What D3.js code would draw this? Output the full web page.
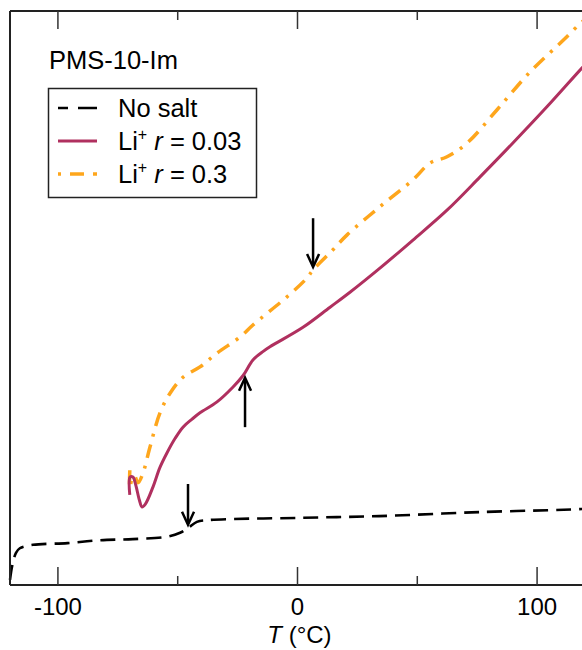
<!DOCTYPE html>
<html>
<head>
<meta charset="utf-8">
<script src="https://cdn.jsdelivr.net/npm/d3@7"></script>
<style>
  body { margin: 0; background: #fff; }
  text { font-family: "Liberation Sans", Arial, sans-serif; fill: #000; }
</style>
</head>
<body>
<div id="chart"></div>
<script>
// Heat flow curves (arbitrary units, endo up) vs temperature
const noSaltT = [-120, -119, -117.5, -115.9, -110.4, -96, -82.5, -68.7, -54.5, -49, -45.7, -42, -37.8, 1, 34, 76, 117, 120];
const noSaltV = [0.9, 3.5, 5.6, 6.4, 7.0, 7.3, 7.8, 8.0, 8.4, 9.1, 9.9, 11.0, 11.3, 11.7, 12.0, 12.7, 13.2, 13.3];

const li003T = [-70.0, -69.9, -68.7, -67.5, -66, -64.9, -63.5, -60.3, -57.5, -54.5, -51, -47.8, -44, -40.7, -33.6, -26.9, -22.7, -18.6, -14.3, -11.5, 2.3, 13.6, 21.9, 34.4, 48.2, 62.4, 76.2, 89.9, 104.1, 118.8, 120];
const li003V = [15.7, 18.8, 18.8, 17.4, 14.8, 13.6, 14.1, 17.1, 20.4, 23.0, 25.6, 27.5, 28.9, 30.0, 31.9, 34.5, 36.5, 39.2, 40.7, 41.5, 44.9, 48.4, 51.0, 55.2, 60.1, 65.3, 71.1, 77.0, 83.3, 90.1, 90.6];

const li03T = [-70.0, -70.0, -69.0, -68, -66.6, -64.5, -61.6, -57.4, -53.2, -47.8, -40.7, -33.6, -24.0, -18.6, -4.4, 4.0, 6.5, 14.8, 20.7, 34.4, 48.2, 55.3, 62.4, 70.8, 83.3, 97.1, 110.9, 118.8, 120];
const li03V = [20.0, 16.9, 18.6, 19.0, 17.8, 19.5, 24.0, 30.0, 33.4, 36.2, 38.0, 40.4, 43.2, 45.3, 50.2, 53.5, 54.9, 58.4, 61.0, 65.9, 70.6, 73.5, 74.6, 77.0, 82.8, 89.4, 94.9, 98.1, 98.4];

// Tg markers: temperature, tail value, tip value
const arrowT = [-45.7, -21.9, 6.5];
const arrowFrom = [17.6, 27.5, 63.9];
const arrowTo = [10.5, 36.1, 55.4];

const majorTicks = [-100, 0, 100];
const minorTicks = [-50, 50];

const seriesNames = ["No salt", "Li+ r = 0.03", "Li+ r = 0.3"];

const W = 582, H = 650;
const svg = d3.select("#chart").append("svg")
    .attr("width", W)
    .attr("height", H);

const x = d3.scaleLinear().domain([-120, 120]).range([10, 585]);
const y = d3.scaleLinear().domain([0, 100]).range([585, 11]);

const series = [
    { T: noSaltT, V: noSaltV, color: "#000", width: 2.6, dash: "15,8" },
    { T: li003T, V: li003V, color: "#b0305f", width: 3, dash: null },
    { T: li03T, V: li03V, color: "#fea61c", width: 3.5, dash: "14,8,3,8" }
];

const line = d3.line()
    .x(d => x(d[0]))
    .y(d => y(d[1]))
    .curve(d3.curveCatmullRom.alpha(0.5));

// draw curves (orange under purple)
[0, 2, 1].forEach(i => {
    const s = series[i];
    svg.append("path")
        .datum(s.T.map((t, k) => [t, s.V[k]]))
        .attr("d", line)
        .attr("fill", "none")
        .attr("stroke", s.color)
        .attr("stroke-width", s.width)
        .attr("stroke-dasharray", s.dash);
});

// frame
svg.append("line").attr("x1", x(-120)).attr("x2", x(120)).attr("y1", y(0)).attr("y2", y(0))
    .attr("stroke", "#222").attr("stroke-width", 2);
svg.append("line").attr("x1", x(-120)).attr("x2", x(120)).attr("y1", y(100)).attr("y2", y(100))
    .attr("stroke", "#222").attr("stroke-width", 2);
svg.append("line").attr("x1", x(-120)).attr("x2", x(-120)).attr("y1", y(0)).attr("y2", y(100))
    .attr("stroke", "#222").attr("stroke-width", 2);

// ticks bottom and top
const tickG = svg.append("g").attr("stroke", "#333").attr("stroke-width", 1.5);
majorTicks.forEach(t => {
    tickG.append("line").attr("x1", x(t)).attr("x2", x(t)).attr("y1", y(0)).attr("y2", y(0) - 18);
    tickG.append("line").attr("x1", x(t)).attr("x2", x(t)).attr("y1", y(100)).attr("y2", y(100) + 18);
});
minorTicks.forEach(t => {
    tickG.append("line").attr("x1", x(t)).attr("x2", x(t)).attr("y1", y(0)).attr("y2", y(0) - 9);
    tickG.append("line").attr("x1", x(t)).attr("x2", x(t)).attr("y1", y(100)).attr("y2", y(100) + 9);
});

svg.selectAll(".tickLabel")
    .data(majorTicks)
    .enter().append("text")
    .attr("x", d => x(d))
    .attr("y", 615)
    .attr("text-anchor", "middle")
    .style("font-size", "24px")
    .text(d => d);

const xt = svg.append("text")
    .attr("x", x(0) + 2)
    .attr("y", 643)
    .attr("text-anchor", "middle")
    .style("font-size", "24px");
xt.append("tspan").style("font-style", "italic").text("T");
xt.append("tspan").text(" (°C)");

// arrows
arrowT.forEach((t, i) => {
    const ax = x(t), y1 = y(arrowFrom[i]), y2 = y(arrowTo[i]);
    const dir = y2 > y1 ? 1 : -1;
    svg.append("line")
        .attr("x1", ax).attr("x2", ax)
        .attr("y1", y1).attr("y2", y2 - dir * 2)
        .attr("stroke", "#000").attr("stroke-width", 2.5);
    svg.append("path")
        .attr("d", `M${ax - 6},${y2 - dir * 13} L${ax},${y2} L${ax + 6},${y2 - dir * 13}`)
        .attr("fill", "none")
        .attr("stroke", "#000")
        .attr("stroke-width", 2.5);
});

// sample label
svg.append("text")
    .attr("x", 49)
    .attr("y", 69)
    .style("font-size", "25.5px")
    .text("PMS-10-Im");

// legend
svg.append("rect")
    .attr("x", 48.5).attr("y", 88.5)
    .attr("width", 208).attr("height", 109)
    .attr("fill", "#fff")
    .attr("stroke", "#222").attr("stroke-width", 1.5);

const legY = [108, 141, 174];
series.forEach((s, i) => {
    svg.append("line")
        .attr("x1", 58).attr("x2", 97)
        .attr("y1", legY[i]).attr("y2", legY[i])
        .attr("stroke", s.color)
        .attr("stroke-width", s.width)
        .attr("stroke-dasharray", i === 0 ? "10,10,20" : (i === 2 ? "3,9,14,9,4" : null));
    const t = svg.append("text")
        .attr("x", 118)
        .attr("y", legY[i] + 9)
        .style("font-size", "25.5px");
    if (i === 0) {
        t.text(seriesNames[0]);
    } else {
        t.append("tspan").text("Li");
        t.append("tspan").attr("dy", -10).style("font-size", "16px").text("+");
        t.append("tspan").attr("dy", 10).text(" ");
        t.append("tspan").style("font-style", "italic").text("r");
        t.append("tspan").text(" = " + seriesNames[i].split("= ")[1]);
    }
});
</script>
</body>
</html>
